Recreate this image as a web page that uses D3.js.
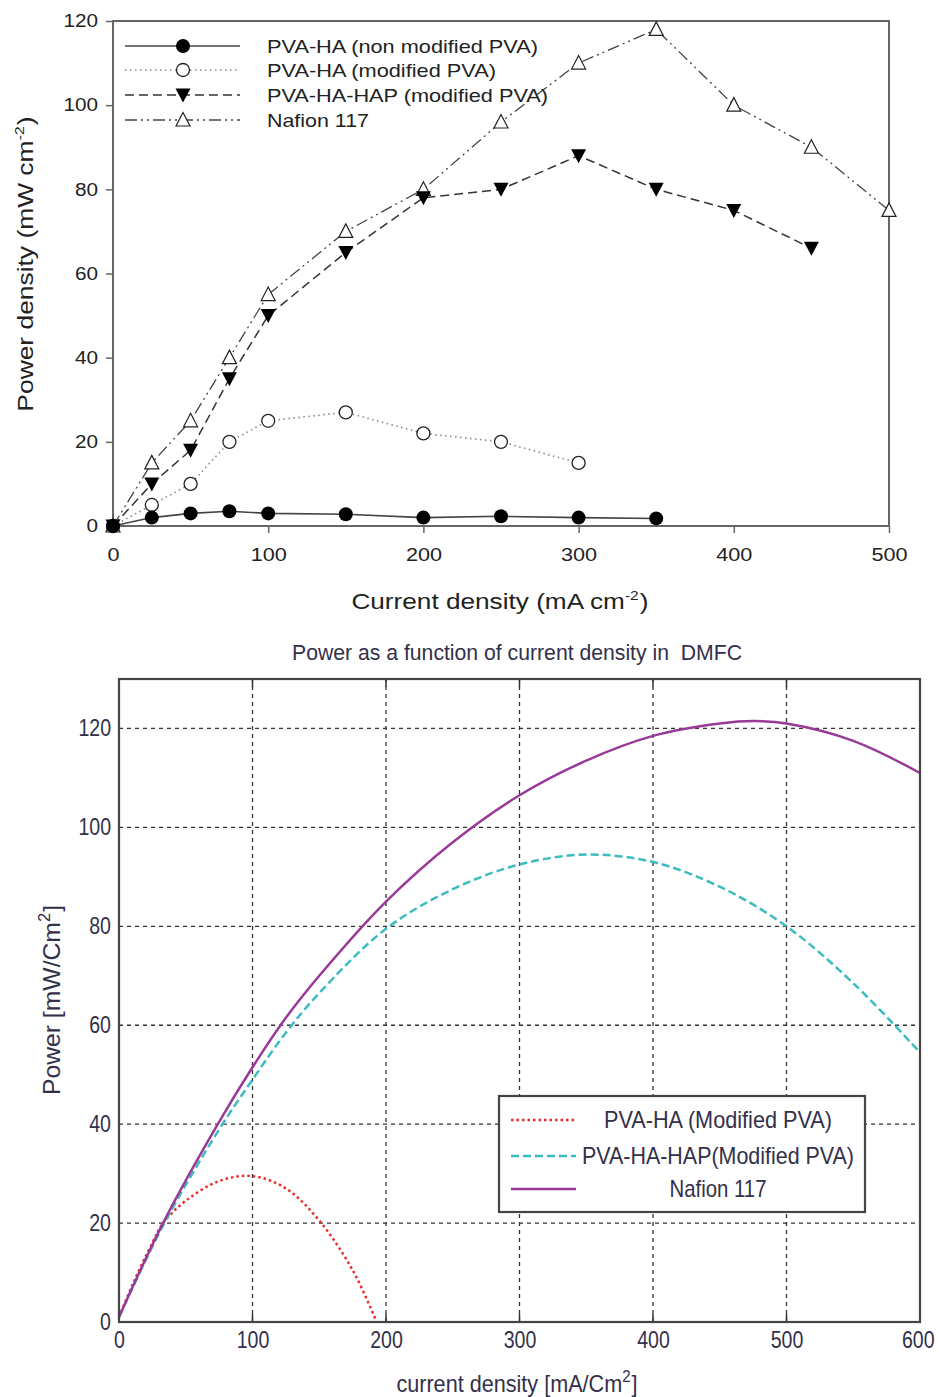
<!DOCTYPE html>
<html><head><meta charset="utf-8">
<script src="https://cdn.jsdelivr.net/npm/d3@7"></script>
<style>
body{margin:0;background:#fff;}
svg{display:block;}
text{white-space:pre;}
.top text{font-family:"Liberation Sans",Arial,sans-serif;fill:#222;}
.bot text{font-family:"Liberation Sans Narrow","Arial Narrow","Liberation Sans",sans-serif;fill:#33304a;}
</style></head>
<body>
<svg id="chart" width="939" height="1397"></svg>
<script>
// ---------- Top chart data ----------
const topNames = ["PVA-HA (non modified PVA)","PVA-HA (modified PVA)","PVA-HA-HAP (modified PVA)","Nafion 117"];
const nonModX = [0,25,50,75,100,150,200,250,300,350];
const nonModY = [0,2,3,3.5,3,2.8,2,2.3,2,1.8];
const modX = [0,25,50,75,100,150,200,250,300];
const modY = [0,5,10,20,25,27,22,20,15];
const hapX = [0,25,50,75,100,150,200,250,300,350,400,450];
const hapY = [0,10,18,35,50,65,78,80,88,80,75,66];
const nafX = [0,25,50,75,100,150,200,250,300,350,400,450,500];
const nafY = [0,15,25,40,55,70,80,96,110,118,100,90,75];
const topXTicks = [0,100,200,300,400,500];
const topYTicks = [0,20,40,60,80,100,120];

// ---------- Bottom chart data ----------
const botTitle = "Power as a function of current density in  DMFC";
const botNames = ["PVA-HA (Modified PVA)","PVA-HA-HAP(Modified PVA)","Nafion 117"];
const redX = [0,12.5,25,33,50,75,100,125,150,175,193];
const redY = [1,9,16,20,24.5,28.5,29.5,27,20.5,10.5,0];
const cyanX = [0,33,74,100,125,150,200,250,300,350,400,450,500,550,600];
const cyanY = [1,19.5,38.5,49,58.5,66.5,79.5,87.5,92.5,94.5,93,88,80,68.5,54.5];
const purpX = [0,33,74,100,125,150,200,250,300,350,400,450,475,500,550,600];
const purpY = [1,20,40,51.5,61.5,70,85,97,106.5,113.5,118.5,121,121.5,121,117.5,111];
const botXTicks = [0,100,200,300,400,500,600];
const botYTicks = [0,20,40,60,80,100,120];

const svg = d3.select("#chart");
const zip = (xs, ys) => xs.map((x,i)=>({x, y: ys[i]}));
function stretch(sel, factor){
  sel.each(function(){
    const L = this.getComputedTextLength();
    d3.select(this).attr("textLength", L*factor).attr("lengthAdjust","spacingAndGlyphs");
  });
}
// centred label with a superscript, built from separate texts laid side by side
function supLabel(parent, cx, cy, rot, parts, fs, sfs, sx){
  const g = parent.append("g").attr("transform",`translate(${cx},${cy}) rotate(${rot})`);
  const inner = g.append("g");
  let cur = 0;
  parts.forEach(p=>{
    const t = inner.append("text").attr("x",cur).attr("y",p.sup? -fs*0.42 : 0)
      .attr("font-size",p.sup? sfs : fs).text(p.t);
    cur += t.node().getComputedTextLength() + (p.sup? 1 : 0);
  });
  inner.attr("transform",`scale(${sx},1) translate(${-cur/2},0)`);
}

// ================= TOP CHART =================
const gt = svg.append("g").attr("class","top");
const tx = d3.scaleLinear().domain([0,500]).range([113,889]);
const ty = d3.scaleLinear().domain([0,120]).range([526,21]);
const axisCol = "#666";

gt.append("rect").attr("x",tx(0)).attr("y",ty(120)).attr("width",tx(500)-tx(0)).attr("height",ty(0)-ty(120))
  .attr("fill","none").attr("stroke",axisCol).attr("stroke-width",2);

const tyAxis = gt.append("g").attr("transform",`translate(${tx(0)},0)`)
  .call(d3.axisLeft(ty).tickValues(topYTicks).tickSize(7).tickPadding(8));
const txAxis = gt.append("g").attr("transform",`translate(0,${ty(0)})`)
  .call(d3.axisBottom(tx).tickValues(topXTicks).tickSize(7).tickPadding(15));
[tyAxis,txAxis].forEach(a=>{
  a.select(".domain").remove();
  a.selectAll("line").attr("stroke",axisCol).attr("stroke-width",1.5);
  a.selectAll("text").attr("font-size",18).attr("fill","#222").attr("font-family","Liberation Sans, Arial, sans-serif");
});
stretch(tyAxis.selectAll("text"),1.15);
stretch(txAxis.selectAll("text"),1.2);

const topStyles = [
  {data:zip(nonModX,nonModY), dash:null, color:"#444", w:1.6, marker:"fcircle"},
  {data:zip(modX,modY), dash:"1.5,3.5", color:"#888", w:1.6, marker:"ocircle"},
  {data:zip(hapX,hapY), dash:"9,5", color:"#333", w:1.5, marker:"ftri"},
  {data:zip(nafX,nafY), dash:"12,4,2,4,2,4", color:"#444", w:1.3, marker:"otri"}
];
const tline = d3.line().x(d=>tx(d.x)).y(d=>ty(d.y));
function drawMarker(g, type, cx, cy){
  if(type==="fcircle") g.append("circle").attr("cx",cx).attr("cy",cy).attr("r",7).attr("fill","#000");
  else if(type==="ocircle") g.append("circle").attr("cx",cx).attr("cy",cy).attr("r",6.5).attr("fill","#fff").attr("stroke","#222").attr("stroke-width",1.3);
  else if(type==="ftri") g.append("path").attr("d",`M${cx-7.5},${cy-6.5}L${cx+7.5},${cy-6.5}L${cx},${cy+7.5}Z`).attr("fill","#000");
  else if(type==="otri") g.append("path").attr("d",`M${cx-7},${cy+6}L${cx+7},${cy+6}L${cx},${cy-7.5}Z`).attr("fill","#fff").attr("stroke","#222").attr("stroke-width",1.2);
}
[3,2,1,0].forEach(i=>{
  const s = topStyles[i];
  gt.append("path").attr("d",tline(s.data)).attr("fill","none").attr("stroke",s.color)
    .attr("stroke-width",s.w).attr("stroke-dasharray",s.dash);
});
[3,2,1,0].forEach(i=>{
  const s = topStyles[i];
  const mg = gt.append("g");
  s.data.forEach(d=>drawMarker(mg,s.marker,tx(d.x),ty(d.y)));
});
// legend
const legY = [46,70,95,120];
const legW = [271,229,281,102];
topNames.forEach((n,i)=>{
  const s = topStyles[i];
  gt.append("line").attr("x1",125).attr("x2",240).attr("y1",legY[i]).attr("y2",legY[i])
    .attr("stroke",s.color).attr("stroke-width",s.w).attr("stroke-dasharray",s.dash);
  drawMarker(gt,s.marker,183,legY[i]);
  gt.append("text").attr("x",267).attr("y",legY[i]+7).attr("font-size",19)
    .attr("textLength",legW[i]).attr("lengthAdjust","spacingAndGlyphs").text(n);
});
// axis titles
supLabel(gt, 33, 264, -90, [{t:"Power density (mW cm"},{t:"-2",sup:true},{t:")"}], 22, 13, 1.2);
supLabel(gt, 500, 609, 0, [{t:"Current density (mA cm"},{t:"-2",sup:true},{t:")"}], 22, 13, 1.19);

// ================= BOTTOM CHART =================
const gb = svg.append("g").attr("class","bot");
const bx = d3.scaleLinear().domain([0,600]).range([119,920]);
const by = d3.scaleLinear().domain([0,130]).range([1322,679]);
const txtCol = "#33304a";

gb.append("g").selectAll("line").data(botXTicks.filter(t=>t>0&&t<600)).join("line")
  .attr("x1",d=>bx(d)).attr("x2",d=>bx(d)).attr("y1",by(0)).attr("y2",by(130))
  .attr("stroke","#333").attr("stroke-width",1.3).attr("stroke-dasharray","4,4");
gb.append("g").selectAll("line").data(botYTicks.filter(t=>t>0)).join("line")
  .attr("x1",bx(0)).attr("x2",bx(600)).attr("y1",d=>by(d)).attr("y2",d=>by(d))
  .attr("stroke","#333").attr("stroke-width",1.3).attr("stroke-dasharray","4,4");

const bxAxis = gb.append("g").attr("transform",`translate(0,${by(0)})`)
  .call(d3.axisBottom(bx).tickValues(botXTicks).tickSize(0).tickPadding(10));
const byAxis = gb.append("g").attr("transform",`translate(${bx(0)},0)`)
  .call(d3.axisLeft(by).tickValues(botYTicks).tickSize(0).tickPadding(8));
[bxAxis,byAxis].forEach(a=>{
  a.select(".domain").remove();
  a.selectAll("text").attr("font-size",23).attr("fill",txtCol)
    .attr("font-family","Liberation Sans Narrow, Arial Narrow, Liberation Sans, sans-serif");
});
stretch(bxAxis.selectAll("text"),0.85);
stretch(byAxis.selectAll("text"),0.85);
// keep last x label inside the canvas
bxAxis.selectAll("text").filter(d=>d===600).attr("text-anchor","end").attr("x",14);
botXTicks.forEach(t=>{
  gb.append("line").attr("x1",bx(t)).attr("x2",bx(t)).attr("y1",by(0)).attr("y2",by(0)-8).attr("stroke","#333").attr("stroke-width",1.5);
  gb.append("line").attr("x1",bx(t)).attr("x2",bx(t)).attr("y1",by(130)).attr("y2",by(130)+8).attr("stroke","#333").attr("stroke-width",1.5);
});

const bline = d3.line().x(d=>bx(d.x)).y(d=>by(d.y)).curve(d3.curveCatmullRom.alpha(0.5));
const botStyles = [
  {data:zip(redX,redY), color:"#ee2a2a", dash:"2.5,3", w:2.5},
  {data:zip(cyanX,cyanY), color:"#3cbcbf", dash:"8,4", w:2.5},
  {data:zip(purpX,purpY), color:"#9a3a98", dash:null, w:2.5}
];
botStyles.forEach(s=>{
  gb.append("path").attr("d",bline(s.data)).attr("fill","none").attr("stroke",s.color)
    .attr("stroke-width",s.w).attr("stroke-dasharray",s.dash);
});

gb.append("rect").attr("x",bx(0)).attr("y",by(130)).attr("width",bx(600)-bx(0)).attr("height",by(0)-by(130))
  .attr("fill","none").attr("stroke","#444").attr("stroke-width",2.2);

// legend
gb.append("rect").attr("x",499).attr("y",1096).attr("width",366).attr("height",116)
  .attr("fill","#fff").attr("stroke","#444").attr("stroke-width",2.2);
const bLegY = [1120,1156,1189];
const bLegW = [228,272,97];
botNames.forEach((n,i)=>{
  const s = botStyles[i];
  gb.append("line").attr("x1",511).attr("x2",576).attr("y1",bLegY[i]).attr("y2",bLegY[i])
    .attr("stroke",s.color).attr("stroke-width",s.w).attr("stroke-dasharray",s.dash);
  gb.append("text").attr("x",718).attr("y",bLegY[i]+8).attr("text-anchor","middle").attr("font-size",24)
    .attr("textLength",bLegW[i]).attr("lengthAdjust","spacingAndGlyphs").text(n);
});

// title & labels
gb.append("text").attr("x",517).attr("y",660).attr("text-anchor","middle").attr("font-size",22)
  .attr("textLength",450).attr("lengthAdjust","spacingAndGlyphs").text(botTitle);
supLabel(gb, 60, 1000, -90, [{t:"Power [mW/Cm"},{t:"2",sup:true},{t:"]"}], 24, 16, 1.03);
supLabel(gb, 517, 1392, 0, [{t:"current density [mA/Cm"},{t:"2",sup:true},{t:"]"}], 23, 16, 0.94);
</script>
</body></html>
